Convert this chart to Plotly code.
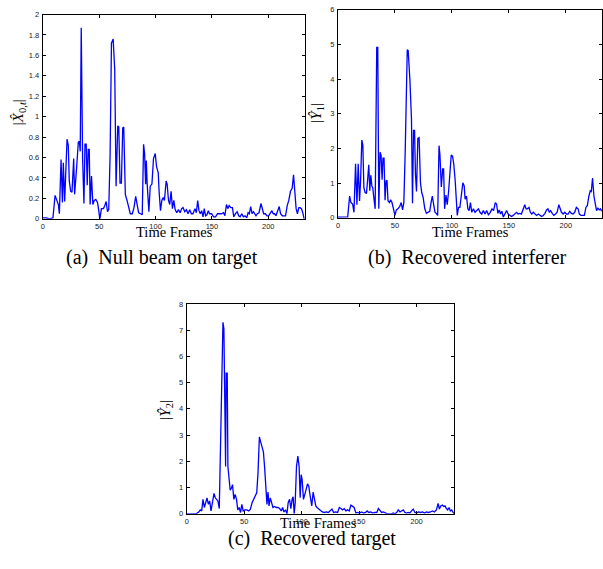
import plotly.graph_objects as go

# ---------------- data ----------------
frames_a = [0, 3, 6, 9, 10.9, 12.4, 13.8, 14.7, 16.2, 17.4, 18.2, 19.4, 20, 21.5, 22.6, 23.5, 24.7, 25.9, 27.4, 28.2,
            30, 31.5, 32.4, 33.2, 34.1, 35.3, 36.5, 37.4, 38.5, 39.4, 40.3, 41.2, 42, 43.2, 44.4, 45.6, 47, 48.5, 49.4,
            50.6, 52, 53.8, 55, 56.2, 57.4, 58.5, 59.7, 60.9, 62.4, 63.8, 65, 66.5, 67.4, 68.5, 69.7, 70.9, 71.8, 73.2,
            74.7, 76.2, 77.6, 79.4, 80.9, 82.4, 83.8, 85, 86.8, 88.2, 89.4, 90.3, 91.2, 91.8, 92.6, 94.1, 95.3, 96.8,
            98.2, 99.7, 100.9, 102.4, 103.2, 104.4, 105.6, 106.8, 107.9, 109.4, 110.3, 111.5, 112.6, 113.8, 115, 116.2,
            117.4, 118.8, 120.3, 121.8, 123.2, 124.4, 125.9, 127.4, 128.8, 130.3, 131.8, 133.2, 135, 136.2, 137.4,
            138.5, 139.7, 140.9, 142.1, 143.2, 144.4, 145.6, 146.8, 147.9, 149.7, 151.5, 153.2, 155, 156.8, 158.5,
            160.3, 161.5, 162.9, 164.1, 165.3, 166.8, 168.2, 169.4, 170.9, 172.4, 173.8, 175, 176.5, 177.9, 179.4,
            180.9, 182.1, 183.2, 184.4, 185.6, 186.8, 187.9, 189.1, 190.3, 191.8, 193.5, 194.7, 195.9, 197.4, 198.8,
            200.3, 201.8, 203.2, 204.4, 205.6, 206.8, 208.2, 209.7, 210.9, 212.4, 213.8, 215.3, 216.8, 218.2, 219.7,
            221.2, 222.4, 223.5, 224.7, 225.9, 227.1, 228.2, 229.4, 230.6, 231.8]
null_beam = [0.01, 0.01, 0.0, 0.01, 0.23, 0.18, 0.14, 0.05, 0.58, 0.16, 0.55, 0.17, 0.37, 0.78, 0.72, 0.37, 0.27, 0.26,
             0.59, 0.24, 0.5, 0.75, 0.76, 0.66, 1.87, 0.59, 0.15, 0.73, 0.73, 0.33, 0.68, 0.68, 0.14, 0.42, 0.14,
             0.18, 0.19, 0.16, 0.1, 0.0, 0.1, 0.1, 0.13, 0.17, 0.07, 0.09, 0.63, 1.72, 1.76, 1.46, 0.32, 0.91, 0.9,
             0.35, 0.35, 0.89, 0.9, 0.24, 0.18, 0.1, 0.05, 0.05, 0.11, 0.22, 0.14, 0.06, 0.05, 0.04, 0.73, 0.64, 0.34,
             0.57, 0.34, 0.07, 0.32, 0.34, 0.59, 0.64, 0.51, 0.45, 0.26, 0.08, 0.18, 0.21, 0.18, 0.37, 0.34, 0.18,
             0.14, 0.27, 0.1, 0.18, 0.09, 0.06, 0.09, 0.06, 0.1, 0.11, 0.07, 0.09, 0.05, 0.09, 0.05, 0.05, 0.1, 0.06,
             0.18, 0.08, 0.05, 0.08, 0.02, 0.1, 0.03, 0.04, 0.08, 0.05, 0.05, 0.02, 0.02, 0.05, 0.05, 0.05, 0.06,
             0.03, 0.14, 0.1, 0.13, 0.11, 0.11, 0.02, 0.05, 0.07, 0.03, 0.02, 0.05, 0.02, 0.03, 0.01, 0.06, 0.05,
             0.12, 0.05, 0.07, 0.05, 0.03, 0.05, 0.06, 0.15, 0.11, 0.05, 0.05, 0.03, 0.03, 0.05, 0.08, 0.05, 0.05,
             0.03, 0.08, 0.12, 0.05, 0.03, 0.03, 0.03, 0.13, 0.18, 0.27, 0.3, 0.43, 0.24, 0.1, 0.05, 0.11, 0.11, 0.1,
             0.06, 0.0]

frames_b = [0, 3, 6, 8.5, 10.2, 11.3, 12.8, 14, 15.4, 16.6, 17.7, 18.9, 19.8, 20.9, 21.8, 22.7, 23.8, 25, 25.9, 27,
            27.9, 28.8, 29.7, 30.5, 31.1, 32.6, 34, 34.9, 35.8, 36.9, 37.8, 38.7, 39.5, 40.4, 41.3, 42.2, 43, 43.9,
            45.1, 46.2, 47.4, 48.5, 50, 51.2, 52.6, 54.1, 55.5, 56.7, 57.8, 59, 60.2, 60.8, 61.6, 63.1, 64.5, 65.4,
            66.3, 67.2, 68, 68.9, 70.1, 71.2, 72.4, 73.5, 74.7, 76.2, 77.6, 79.1, 80.5, 81.7, 82.8, 84, 85.2, 86.3,
            87.5, 88.7, 89.5, 90.7, 91.9, 92.7, 93.6, 94.8, 95.9, 97.1, 98.3, 99.4, 100.6, 101.7, 102.9, 103.8, 104.7,
            105.8, 107, 108.4, 109.6, 110.8, 111.6, 112.8, 114, 115.1, 116.3, 117.4, 118.9, 120.3, 121.8, 123.3,
            124.7, 126.2, 127.6, 129.1, 130.5, 132, 133.7, 135.2, 136.6, 138.1, 139.2, 140.4, 141.6, 142.7, 143.9,
            145.1, 146.5, 148, 149.4, 150.9, 152.3, 153.8, 155.2, 156.7, 158.1, 159.6, 161, 162.5, 164, 165.1, 166.3,
            167.7, 168.9, 170.1, 171.5, 173, 174.4, 175.9, 177.3, 178.8, 180.2, 181.7, 183.1, 184.3, 185.5, 186.6,
            188.1, 189.5, 191, 192.4, 193.9, 195, 196.2, 197.7, 199.1, 200.6, 202, 203.5, 204.9, 206.4, 207.8, 209.3,
            210.8, 211.9, 213.4, 214.8, 216.3, 217.7, 218.9, 220.3, 221.5, 222.4, 223.5, 224.7, 225.9, 227, 228.2,
            229.4, 230.5, 231.4]
interferer = [0.02, 0.02, 0.03, 0.03, 0.63, 0.44, 0.4, 0.16, 1.56, 0.38, 1.56, 0.49, 1.06, 2.24, 2.1, 0.87, 0.73, 0.7,
              1.06, 1.53, 0.78, 1.23, 0.92, 0.87, 0.68, 0.26, 4.91, 4.91, 0.26, 1.89, 1.81, 1.1, 1.72, 1.72, 0.51,
              1.06, 1.08, 0.49, 0.44, 0.52, 0.44, 0.26, 0.07, 0.23, 0.26, 0.32, 0.44, 0.23, 0.44, 1.91, 3.8, 4.84,
              4.82, 3.99, 2.85, 0.42, 2.52, 2.52, 1.25, 0.76, 2.29, 2.31, 1.01, 0.73, 0.6, 0.26, 0.13, 0.16, 0.19,
              0.44, 0.63, 0.38, 0.16, 0.13, 0.07, 2.08, 1.81, 0.89, 1.41, 1.41, 0.26, 0.66, 0.38, 0.76, 1.25, 1.81,
              1.77, 1.53, 1.06, 0.49, 0.07, 0.3, 0.3, 0.68, 1.01, 0.92, 0.54, 0.63, 0.26, 0.21, 0.44, 0.16, 0.26,
              0.16, 0.21, 0.26, 0.16, 0.11, 0.21, 0.11, 0.21, 0.09, 0.16, 0.26, 0.21, 0.44, 0.4, 0.13, 0.23, 0.11,
              0.19, 0.02, 0.11, 0.21, 0.11, 0.07, 0.04, 0.07, 0.13, 0.16, 0.11, 0.13, 0.11, 0.26, 0.38, 0.26, 0.26,
              0.3, 0.16, 0.11, 0.16, 0.11, 0.07, 0.11, 0.07, 0.04, 0.07, 0.13, 0.23, 0.26, 0.16, 0.21, 0.13, 0.07,
              0.11, 0.16, 0.38, 0.28, 0.16, 0.11, 0.16, 0.11, 0.11, 0.19, 0.13, 0.11, 0.16, 0.3, 0.26, 0.11, 0.07,
              0.07, 0.07, 0.3, 0.35, 0.63, 0.78, 0.76, 1.15, 0.63, 0.38, 0.21, 0.28, 0.23, 0.26, 0.19]

frames_c = [0, 4, 8, 10.4, 11.8, 13, 14.1, 15.3, 16.5, 17.6, 18.8, 19.9, 21.1, 22.2, 23.7, 24.8, 26, 27.1, 28.3, 29.1,
            30.3, 31.5, 32.3, 33.2, 33.8, 34.3, 35.2, 35.8, 36.7, 37.8, 39, 39.8, 41, 42.1, 43.3, 44.4, 45.6, 46.8,
            47.9, 49.1, 50.5, 52.2, 54, 55.4, 56.9, 58.3, 59.7, 60.9, 62, 63.2, 64.3, 65.5, 66.7, 67.8, 69, 69.8, 70.7,
            71.6, 72.7, 73.9, 75, 76.5, 77.9, 79.4, 80.8, 82.3, 83.4, 84.6, 86, 87.2, 88.3, 89.5, 90.6, 91.8, 92.6,
            93.5, 94.4, 95.5, 96.7, 97.8, 98.7, 99.6, 100.4, 101.6, 102.7, 103.9, 105.1, 106.2, 107.4, 108.8, 110,
            111.1, 112.3, 113.4, 114.6, 116.3, 118, 119.8, 121.5, 123.2, 125, 126.4, 127.8, 129.6, 131.3, 132.8,
            134.2, 135.6, 137.1, 138.5, 140, 141.4, 142.9, 144.3, 145.7, 147.2, 148.6, 150.4, 152.1, 153.8, 155.6,
            157, 158.4, 160.2, 161.9, 163.6, 165.4, 166.8, 168.3, 169.7, 171.1, 172.9, 174.6, 176.3, 178.1, 179.8,
            181.2, 182.7, 184.1, 185.6, 187, 188.5, 189.9, 191.3, 192.8, 194.2, 195.7, 197.1, 198.6, 200, 201.7,
            203.5, 205.2, 206.9, 208.7, 210.4, 212.1, 213.9, 215.6, 217.3, 218.8, 219.9, 221.1, 222.5, 223.7, 224.8,
            226, 227.1, 228.3, 229.4, 230.6, 231.7, 232.6]
target = [0.0, 0.0, 0.0, 0.07, 0.15, 0.11, 0.55, 0.24, 0.45, 0.61, 0.36, 0.49, 0.11, 0.43, 0.78, 0.61, 0.55, 0.49, 0.2,
          2.18, 5.05, 7.3, 7.05, 4.8, 1.8, 5.36, 5.36, 1.8, 1.43, 0.9, 0.99, 1.11, 0.55, 0.74, 0.55, 0.15, 0.24, 0.05,
          0.36, 0.11, 0.15, 0.15, 0.11, 0.18, 0.43, 0.55, 0.7, 0.8, 1.55, 2.93, 2.74, 2.49, 2.36, 1.74, 0.68, 0.36,
          0.83, 0.3, 0.61, 0.43, 0.24, 0.28, 0.24, 0.24, 0.2, 0.11, 0.24, 0.07, 0.15, 0.0, 0.43, 0.55, 0.2, 0.58,
          0.65, 0.0, 0.43, 1.8, 2.2, 1.8, 0.61, 1.49, 1.3, 0.55, 0.7, 0.93, 1.14, 1.05, 0.68, 0.3, 0.83, 0.55, 0.3,
          0.24, 0.2, 0.11, 0.07, 0.05, 0.07, 0.05, 0.11, 0.18, 0.05, 0.07, 0.05, 0.24, 0.2, 0.15, 0.2, 0.11, 0.15,
          0.11, 0.33, 0.3, 0.24, 0.03, 0.05, 0.03, 0.07, 0.03, 0.05, 0.11, 0.05, 0.07, 0.03, 0.05, 0.05, 0.2, 0.11,
          0.05, 0.07, 0.03, 0.0, 0.0, 0.0, 0.03, 0.0, 0.05, 0.15, 0.07, 0.11, 0.15, 0.05, 0.03, 0.05, 0.03, 0.11,
          0.18, 0.05, 0.03, 0.07, 0.05, 0.07, 0.03, 0.07, 0.05, 0.07, 0.11, 0.07, 0.15, 0.4, 0.18, 0.3, 0.33, 0.28,
          0.3, 0.2, 0.15, 0.24, 0.11, 0.15, 0.05, 0.0]

x_ticks = [0, 50, 100, 150, 200]
ticks_a = [0, 0.2, 0.4, 0.6, 0.8, 1, 1.2, 1.4, 1.6, 1.8, 2]
ticks_b = [0, 1, 2, 3, 4, 5, 6]
ticks_c = [0, 1, 2, 3, 4, 5, 6, 7, 8]

captions = ["(a)\u00a0\u00a0Null beam on target", "(b)\u00a0\u00a0Recovered interferer", "(c)\u00a0\u00a0Recovered target"]
ylabels = ["|<i>X\u0302</i><sub>0,<i>t</i></sub>|", "|<i>\u0176</i><sub>1</sub>|", "|<i>\u0176</i><sub>2</sub>|"]
xlabel = "Time Frames"

# ---------------- figure ----------------
W, H = 603, 569
def px(x):
    return x / W
def py(y):
    return 1 - y / H

fig = go.Figure()
line = dict(color="#0000ff", width=1.3)
fig.add_trace(go.Scatter(x=frames_a, y=null_beam, mode="lines", line=line, xaxis="x", yaxis="y", showlegend=False))
fig.add_trace(go.Scatter(x=frames_b, y=interferer, mode="lines", line=line, xaxis="x2", yaxis="y2", showlegend=False))
fig.add_trace(go.Scatter(x=frames_c, y=target, mode="lines", line=line, xaxis="x3", yaxis="y3", showlegend=False))

tickfont = dict(family="Liberation Sans, Arial, sans-serif", size=7.5, color="#222")
def xax(domain, anchor, rng):
    return dict(domain=domain, anchor=anchor, range=rng, tickvals=x_ticks, ticks="inside", ticklen=3,
                tickcolor="black", showline=True, linecolor="black", linewidth=1, mirror="ticks",
                showgrid=False, zeroline=False, tickfont=tickfont)
def yax(domain, anchor, rng, tv):
    return dict(domain=domain, anchor=anchor, range=rng, tickvals=tv, ticks="inside", ticklen=3,
                tickcolor="black", showline=True, linecolor="black", linewidth=1, mirror="ticks",
                showgrid=False, zeroline=False, tickfont=tickfont, ticklabelstandoff=1)

fig.update_layout(
    width=W, height=H, margin=dict(l=0, r=0, t=0, b=0), autosize=False,
    paper_bgcolor="white", plot_bgcolor="white",
    xaxis=xax([px(41), px(305)], "y", [0, 233]),
    yaxis=yax([py(218.3), py(10.7)], "x", [0, 2], ticks_a),
    xaxis2=xax([px(337.7), 1.0], "y2", [0, 231.8]),
    yaxis2=yax([py(217.3), py(5.7)], "x2", [0, 6], ticks_b),
    xaxis3=xax([px(185.7), px(454.7)], "y3", [0, 233]),
    yaxis3=yax([py(518), py(304.7)], "x3", [0, 8], ticks_c),
)

serif = "Liberation Serif, Times New Roman, serif"
ann = []
# x-axis titles
for (x, y) in [(173, 232), (471, 232), (318, 527)]:
    ann.append(dict(x=px(x), y=py(y), xref="paper", yref="paper", text=xlabel, showarrow=False,
                    font=dict(family=serif, size=14.5, color="black"), xanchor="center", yanchor="middle"))
# captions
for (x, y), t in zip([(161, 258), (468, 258), (312, 543)], captions):
    ann.append(dict(x=px(x), y=py(y), xref="paper", yref="paper", text=t, showarrow=False,
                    font=dict(family=serif, size=20, color="black"), xanchor="center", yanchor="middle"))
# y-axis titles
for (x, y), t in zip([(17, 110), (317, 110), (165, 412)], ylabels):
    ann.append(dict(x=px(x), y=py(y), xref="paper", yref="paper", text=t, showarrow=False, textangle=-90,
                    font=dict(family=serif, size=15, color="black"), xanchor="center", yanchor="middle"))
fig.update_layout(annotations=ann)

fig.write_html("out.html", config={"displayModeBar": False, "responsive": False},
               post_script="document.body.style.margin='0';document.body.style.overflow='hidden';")
